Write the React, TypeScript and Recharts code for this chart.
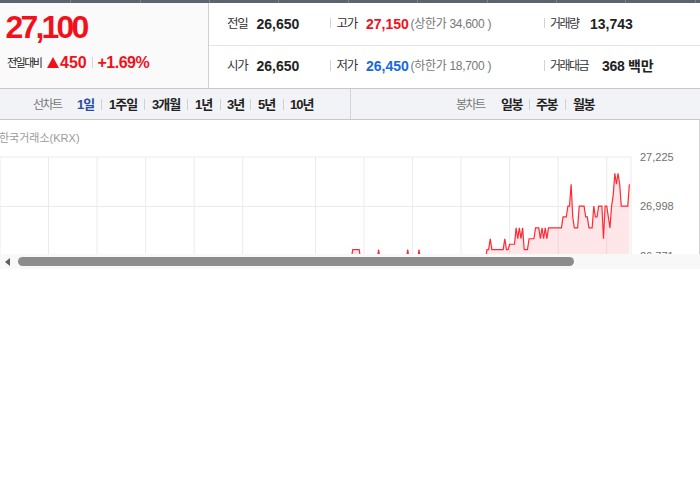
import React from 'react';
import { AreaChart, Area, XAxis, YAxis, CartesianGrid } from 'recharts';

// minutes after 09:00 and price at that minute (change points)
const MINUTES = [
  0, 5, 15, 30, 45, 60, 90, 120, 150, 180, 200, 210, 217, 218, 222, 223,
  233, 234, 235, 251, 252, 253, 258, 259, 260, 280, 300, 301, 302, 303, 304,
  311, 312, 313, 314, 315, 318, 319, 320, 321, 322, 323, 324, 326, 327, 330,
  331, 333, 334, 335, 336, 337, 338, 339, 347, 348, 350, 351, 352, 353, 354,
  355, 357, 358, 361, 362, 363, 364, 366, 367, 368, 369, 370, 372, 373, 374,
  375, 376, 377, 378, 379, 380, 381, 382, 383, 384, 388, 389,
];
const PRICES = [
  26650, 26600, 26500, 26450, 26550, 26600, 26650, 26700, 26650, 26700, 26750, 26700, 26750, 26800, 26800, 26750,
  26750, 26800, 26750, 26750, 26800, 26750, 26750, 26800, 26750, 26700, 26750, 26800, 26800, 26850, 26800,
  26800, 26850, 26800, 26800, 26825, 26825, 26900, 26850, 26900, 26850, 26900, 26800, 26800, 26850, 26850,
  26900, 26900, 26850, 26900, 26850, 26900, 26850, 26900, 26900, 26950, 26950, 27000, 27000, 27100, 26950,
  26900, 26900, 27000, 27000, 26950, 26950, 26900, 26900, 27000, 26950, 26950, 27000, 27000, 26850, 27000,
  27000, 26950, 26900, 27000, 27050, 27150, 27100, 27150, 27100, 27000, 27000, 27100,
];
const Y_DOMAIN = [26317, 27225];
const Y_TICKS = [26771, 26998, 27225];
const X_TICKS = [0, 30, 60, 90, 120, 150, 180, 195, 225, 255, 285, 315, 345, 375];

const PERIOD_TABS = ['1일', '1주일', '3개월', '1년', '3년', '5년', '10년'];
const CANDLE_TABS = ['일봉', '주봉', '월봉'];

const data = MINUTES.map((m, i) => ({ m, p: PRICES[i] }));

const FONT = '"Liberation Sans", Arial, "Noto Sans CJK KR", sans-serif';
const RED = '#f2111b';
const BLUE = '#1768e0';

type TP = {
  x: number; y: number; size: number; color?: string; bold?: boolean; ls?: number; children: React.ReactNode;
};
const T = ({ x, y, size, color = '#333', bold, ls = 0, children }: TP) => (
  <div
    style={{
      position: 'absolute', left: x, top: y, fontSize: size, lineHeight: '20px', color,
      fontWeight: bold ? 700 : 400, letterSpacing: ls, whiteSpace: 'nowrap', fontFamily: FONT,
    }}
  >
    {children}
  </div>
);

const Box = ({ x, y, w, h, c, r }: { x: number; y: number; w: number; h: number; c: string; r?: number }) => (
  <div style={{ position: 'absolute', left: x, top: y, width: w, height: h, background: c, borderRadius: r }} />
);

const periodX = [77, 109, 152, 195, 227, 258, 290];
const periodSep = [101, 144, 187, 220, 250, 283];
const candleX = [501, 536, 573];
const candleSep = [529, 565];
const topMarks = [70, 140, 209, 278, 348, 417, 487, 556, 625, 695];

export default function App() {
  return (
    <div style={{ position: 'absolute', left: 0, top: 0, width: 700, height: 490, background: '#fff', overflow: 'hidden', fontFamily: FONT }}>
      {/* top bar */}
      <Box x={0} y={0} w={700} h={3} c="#5d6470" />
      {topMarks.map((x) => <Box key={x} x={x} y={0} w={1} h={3} c="#7d838d" />)}
      {/* left box */}
      <Box x={0} y={3} w={208} h={85} c="#fafafa" />
      <Box x={208} y={3} w={1} h={85} c="#cfcfcf" />
      <T x={5.5} y={17} size={32} color={RED} bold ls={-2.8}>27,100</T>
      <T x={7} y={52.8} size={11} color="#222" ls={-1.5}>전일대비</T>
      <div style={{ position: 'absolute', left: 46.5, top: 56.5, width: 0, height: 0, borderLeft: '6.5px solid transparent', borderRight: '6.5px solid transparent', borderBottom: `11.5px solid ${RED}` }} />
      <T x={60} y={52.5} size={16} color={RED} bold>450</T>
      <Box x={92} y={57} w={1} h={11} c="#d6d6d6" />
      <T x={97.5} y={52.5} size={16} color={RED} bold ls={-0.5}>+1.69%</T>

      {/* right rows */}
      <Box x={209} y={45} w={491} h={1} c="#e6e6e6" />
      <T x={227} y={13.5} size={12.5} ls={-1.2}>전일</T>
      <T x={256.5} y={13.5} size={14} color="#222" bold>26,650</T>
      <Box x={330} y={18} w={1} h={10} c="#d3d3d3" />
      <T x={336.5} y={13.5} size={12.5} ls={-1.2}>고가</T>
      <T x={366} y={13.5} size={14} color={RED} bold>27,150</T>
      <T x={410.5} y={13.5} size={12} color="#777" ls={-0.3}>(상한가 34,600 )</T>
      <Box x={544} y={18} w={1} h={10} c="#d3d3d3" />
      <T x={550} y={13.5} size={12} ls={-1.5}>거래량</T>
      <T x={590} y={13.5} size={14} color="#222" bold>13,743</T>

      <T x={227} y={55.5} size={12.5} ls={-1.2}>시가</T>
      <T x={256.5} y={55.5} size={14} color="#222" bold>26,650</T>
      <Box x={330} y={60} w={1} h={11} c="#d3d3d3" />
      <T x={336.5} y={55.5} size={12.5} ls={-1.2}>저가</T>
      <T x={366} y={55.5} size={14} color={BLUE} bold>26,450</T>
      <T x={410.5} y={55.5} size={12} color="#777" ls={-0.3}>(하한가 18,700 )</T>
      <Box x={544} y={60} w={1} h={11} c="#d3d3d3" />
      <T x={550} y={55.5} size={12} ls={-1.5}>거래대금</T>
      <T x={602} y={55.5} size={14} color="#222" bold ls={-0.3}>368 백만</T>

      {/* tab bar */}
      <div style={{ position: 'absolute', left: 0, top: 88, width: 700, height: 32, boxSizing: 'border-box', background: '#f2f3f7', borderTop: '1px solid #c8c8c8', borderBottom: '1px solid #c8c8c8' }} />
      <Box x={350} y={89} w={1} h={30} c="#d2d4da" />
      <T x={33} y={95} size={12} color="#777" ls={-1.5}>선차트</T>
      {PERIOD_TABS.map((t, i) => (
        <T key={t} x={periodX[i]} y={95} size={13} color={i === 0 ? '#2b4ea2' : '#222'} bold ls={-1}>{t}</T>
      ))}
      {periodSep.map((x) => <Box key={x} x={x} y={99} w={1} h={11} c="#d0d0d0" />)}
      <T x={456} y={95} size={12} color="#777" ls={-1.5}>봉차트</T>
      {CANDLE_TABS.map((t, i) => (
        <T key={t} x={candleX[i]} y={95} size={13} color="#222" bold ls={-1.5}>{t}</T>
      ))}
      {candleSep.map((x) => <Box key={x} x={x} y={99} w={1} h={11} c="#d0d0d0" />)}

      {/* chart */}
      <div style={{ position: 'absolute', left: 0, top: 120, width: 700, height: 134, overflow: 'hidden' }}>
        <div style={{ position: 'absolute', left: -1, top: 7.5, fontSize: 11, lineHeight: '20px', color: '#9a9a9a', fontFamily: FONT, whiteSpace: 'nowrap' }}>한국거래소(KRX)</div>
        <div style={{ position: 'absolute', left: 0, top: 0 }}>
          <AreaChart width={700} height={240} data={data} margin={{ top: 37, right: 0, bottom: 5, left: 0 }}>
            <CartesianGrid stroke="#ebebeb" />
            <XAxis dataKey="m" type="number" domain={[0, 390]} ticks={X_TICKS} hide />
            <YAxis
              orientation="right"
              width={69}
              domain={Y_DOMAIN}
              ticks={Y_TICKS}
              interval={0}
              axisLine={false}
              tickLine={false}
              tickSize={6}
              tickMargin={3}
              tick={{ fontSize: 11, fill: '#707070', fontFamily: FONT }}
              tickFormatter={(v: number) => v.toLocaleString('en-US')}
            />
            <Area
              type="linear"
              dataKey="p"
              stroke="#ff2a36"
              strokeWidth={1.2}
              fill="#ff4d5e"
              fillOpacity={0.14}
              dot={false}
              activeDot={false}
              isAnimationActive={false}
            />
          </AreaChart>
        </div>
      </div>
      <Box x={699} y={120} w={1} h={134} c="#d4d4d4" />

      {/* scrollbar */}
      <Box x={0} y={254} w={700} h={14.5} c="#f8f8f8" />
      <div style={{ position: 'absolute', left: 5, top: 257.5, width: 0, height: 0, borderTop: '4.3px solid transparent', borderBottom: '4.3px solid transparent', borderRight: '5px solid #5e5e5e' }} />
      <Box x={18} y={256.7} w={556} h={9.5} c="#8c8c8c" r={5} />
    </div>
  );
}
